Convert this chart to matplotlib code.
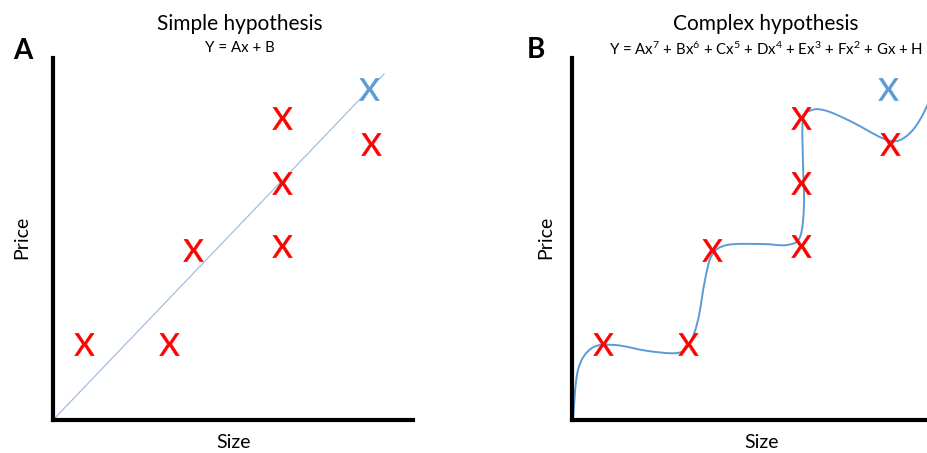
import numpy as np
import matplotlib
matplotlib.use("Agg")
import matplotlib.pyplot as plt
from matplotlib.path import Path
from matplotlib.patches import PathPatch

plt.rcParams['font.family'] = ['Lato', 'DejaVu Sans']
plt.rcParams['mathtext.fontset'] = 'custom'
plt.rcParams['mathtext.rm'] = 'Lato'
plt.rcParams['mathtext.default'] = 'regular'

# training examples (size, price) and the new house to predict
size = [31, 116, 140, 229, 229, 229, 318]
price = [76, 76, 170, 174, 237, 302, 276]
new_size = [316]
new_price = [331]

# straight-line fit
line_x = [0, 331]
line_y = [0, 346]

# knots of the wiggly high-order fit
curve_x = [1, 6, 20, 43, 76, 105, 117, 126, 133, 140, 155, 190, 215, 228,
           232, 231, 231, 240, 255, 280, 310, 325, 338, 349, 360]
curve_y = [0, 50, 72, 75, 69, 67, 75, 100, 140, 165, 175, 176, 175, 183,
           215, 257, 300, 310, 309, 298, 282, 279, 287, 302, 325]

RED = '#ff0000'
BLUE = '#5b9bd5'
W, H = 928, 453

fig = plt.figure(figsize=(W / 100, H / 100), dpi=100)


def make_axes(left):
    ax = fig.add_axes([left / W, (H - 420) / H, 360 / W, 362 / H])
    ax.set_xlim(0, 360)
    ax.set_ylim(0, 362)
    for s in ['top', 'right']:
        ax.spines[s].set_visible(False)
    for s in ['left', 'bottom']:
        ax.spines[s].set_linewidth(3)
        ax.spines[s].set_color('black')
    ax.set_xticks([])
    ax.set_yticks([])
    ax.patch.set_alpha(0)
    return ax


def draw_points(ax):
    ax.scatter(size, price, marker=r'$\mathrm{X}$', s=260, c=RED,
               linewidths=0.4, edgecolors=RED, zorder=3)
    ax.scatter(new_size, new_price, marker=r'$\mathrm{X}$', s=260, c=BLUE,
               linewidths=0.4, edgecolors=BLUE, zorder=3)


def smooth_path(xs, ys):
    # Catmull-Rom through the knots, as cubic Bezier segments
    p = np.column_stack([xs, ys]).astype(float)
    p = np.vstack([p[0], p, p[-1]])
    verts = [p[1]]
    codes = [Path.MOVETO]
    for i in range(1, len(p) - 2):
        c1 = p[i] + (p[i + 1] - p[i - 1]) / 6
        c2 = p[i + 1] - (p[i + 2] - p[i]) / 6
        verts += [c1, c2, p[i + 1]]
        codes += [Path.CURVE4] * 3
    return Path(verts, codes)


# panel A
axA = make_axes(53)
axA.plot(line_x, line_y, color='#a3bfe0', lw=0.9, zorder=2)
draw_points(axA)

# panel B
axB = make_axes(572)
axB.add_patch(PathPatch(smooth_path(curve_x, curve_y), facecolor='none',
                        edgecolor=BLUE, lw=1.4, zorder=2))
draw_points(axB)


def fy(py):
    return 1 - py / H


fig.text(240 / W, fy(24), 'Simple hypothesis', ha='center', va='center', fontsize=15)
fig.text(240 / W, fy(48), 'Y = Ax + B', ha='center', va='center', fontsize=10.8)
fig.text(766 / W, fy(24), 'Complex hypothesis', ha='center', va='center', fontsize=15)
fig.text(766 / W, fy(49),
         'Y = Ax$^{7}$ + Bx$^{6}$ + Cx$^{5}$ + Dx$^{4}$ + Ex$^{3}$ + Fx$^{2}$ + Gx + H',
         ha='center', va='center', fontsize=10.8)

fig.text(23 / W, fy(51), 'A', ha='center', va='center', fontsize=20, fontweight='bold')
fig.text(536 / W, fy(50), 'B', ha='center', va='center', fontsize=20, fontweight='bold')

for cx in [22, 546]:
    fig.text(cx / W, fy(237), 'Price', ha='center', va='center', rotation=90, fontsize=14)
for cx in [234, 762]:
    fig.text(cx / W, fy(443), 'Size', ha='center', va='center', fontsize=14)

fig.savefig('out.png', dpi=100)
